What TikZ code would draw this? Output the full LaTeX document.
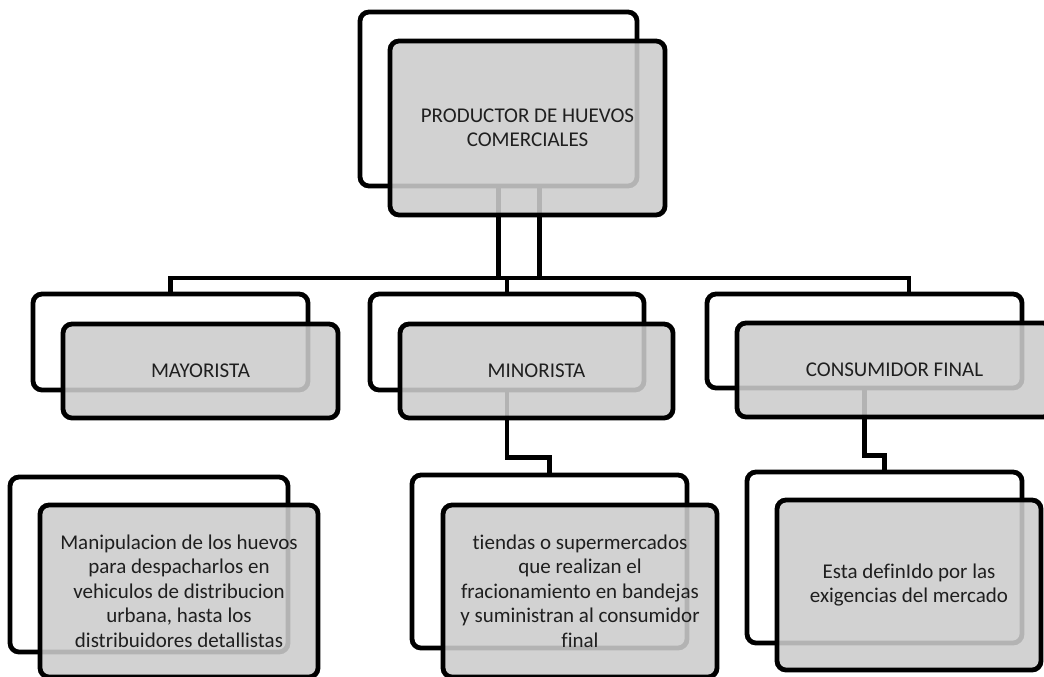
\documentclass[tikz,border=0pt]{standalone}
\usepackage{fontspec}
\setmainfont{Carlito}[Ligatures=NoCommon]
\usetikzlibrary{positioning, calc}

\begin{document}
\begin{tikzpicture}[
  x=1pt, y=-1pt,
  font=\fontsize{21}{24.5}\selectfont,
  box/.style={rectangle, rounded corners=9pt, line width=4.8pt, draw=black, inner sep=0pt},
  backbox/.style={box, fill=white},
  frontbox/.style={box, fill=black!20, fill opacity=0.88, text opacity=1, text=black!88, align=center},
  link/.style={line width=4.8pt, draw=black},
]

\useasboundingbox (0,0) rectangle (1044,677);
\clip (0,0) rectangle (1044,677);

% ---- back boxes (white, drawn first) ----
\node[backbox, minimum width=277pt, minimum height=174pt] (prodB) at (498.5,99) {};
\node[backbox, minimum width=275pt, minimum height=96pt]  (mayB)  at (170.5,342) {};
\node[backbox, minimum width=274pt, minimum height=96pt]  (minB)  at (507,342) {};
\node[backbox, minimum width=315pt, minimum height=94pt]  (consB) at (864.5,341) {};
\node[backbox, minimum width=278pt, minimum height=175pt] (manB)  at (149,564.5) {};
\node[backbox, minimum width=275pt, minimum height=173pt] (tiB)   at (549.5,561.5) {};
\node[backbox, minimum width=275pt, minimum height=171pt] (estB)  at (884.5,557.5) {};

% ---- connectors (under the grey boxes) ----
\coordinate (bus) at (0,278);
\coordinate (prodR) at ([xshift=41pt]prodB.south);
\coordinate (consT) at ([xshift=44.5pt]consB.north);
\draw[link] (prodB.south) -- (prodB.south |- bus);
\draw[link] (prodR) -- (prodR |- bus);
\draw[link] (mayB.north) -- (mayB.north |- bus) -- (consT |- bus) -- (consT);
\draw[link] (minB.north) -- (minB.north |- bus);
\draw[link] (minB.south) -- ++(0,65) -| (tiB.north);
\draw[link] (consB.south) -- ++(0,65) -| (estB.north);

% ---- front boxes (grey, with the texts) ----
\node[frontbox, minimum width=275pt, minimum height=174pt] (prodF) at (527.5,128)
  {PRODUCTOR DE HUEVOS\\COMERCIALES};
\node[frontbox, minimum width=275pt, minimum height=94pt] (mayF) at (200.5,371) {MAYORISTA};
\node[frontbox, minimum width=273pt, minimum height=94pt] (minF) at (536.5,371) {MINORISTA};
\node[frontbox, minimum width=315pt, minimum height=94pt] (consF) at (894.5,370) {CONSUMIDOR FINAL};
\node[frontbox, minimum width=278pt, minimum height=172pt] (manF) at (179,591)
  {Manipulacion de los huevos\\para despacharlos en\\vehiculos de distribucion\\urbana, hasta los\\distribuidores detallistas};
\node[frontbox, minimum width=274pt, minimum height=172pt] (tiF) at (580,591)
  {tiendas o supermercados\\que realizan el\\fracionamiento en bandejas\\y suministran al consumidor\\final};
\node[frontbox, minimum width=264pt, minimum height=170pt] (estF) at (909,585)
  {Esta definIdo por las\\exigencias del mercado};

\end{tikzpicture}
\end{document}
